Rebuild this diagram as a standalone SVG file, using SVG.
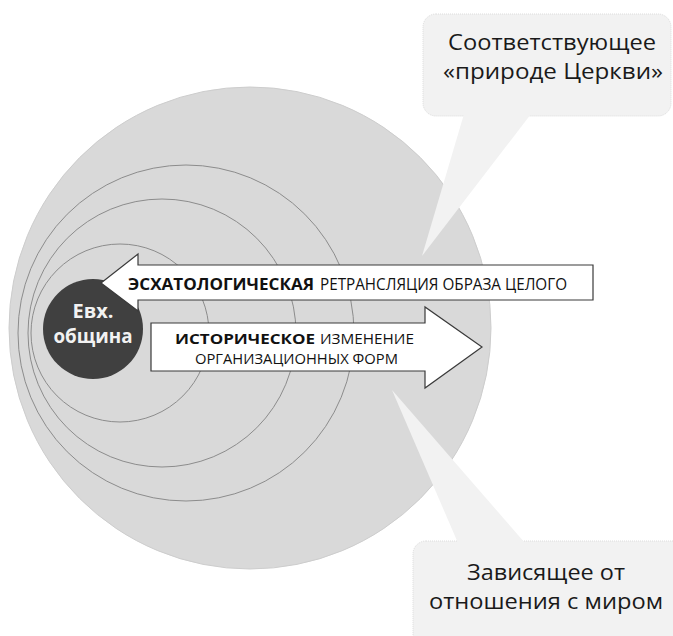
<svg xmlns="http://www.w3.org/2000/svg" width="673" height="636" viewBox="0 0 673 636">
  <style>
    .ring { fill: none; stroke: #8c8c8c; stroke-width: 1; }
    .bubble { fill: #f2f2f2; }
    .bubble-box { fill: #f2f2f2; stroke: #dcdcdc; stroke-width: 1; stroke-dasharray: 1 1; }
    .callout-text { font-family: "Open Sans", "Noto Sans", sans-serif; font-size: 22px; fill: #1a1a1a; text-anchor: middle; }
    .arrow { fill: #ffffff; stroke: #3a3a3a; stroke-width: 1.2; stroke-linejoin: miter; }
    .lbl { font-family: "Open Sans", "Noto Sans", sans-serif; font-size: 16.5px; fill: #111111; }
    .lbl-sm { font-size: 15px; }
    .lbl-b { font-weight: bold; }
    .core-text { font-family: "Open Sans", "Noto Sans", sans-serif; font-size: 20px; font-weight: bold; fill: #f2f2f2; text-anchor: middle; }
  </style>

  <rect width="673" height="636" fill="#ffffff"/>

  <!-- outer sphere and nested rings -->
  <g id="sphere">
    <circle cx="250" cy="328" r="241" fill="#d9d9d9" stroke="#cdcdcd" stroke-width="1"/>
    <circle class="ring" cx="186" cy="333" r="168"/>
    <circle class="ring" cx="162" cy="333" r="134"/>
    <circle class="ring" cx="120" cy="333" r="89"/>
  </g>

  <!-- upper callout -->
  <g id="callout-nature">
    <rect class="bubble-box" x="423" y="14" width="248" height="102" rx="13"/>
    <polygon class="bubble" points="464,114 422,256 531,114"/>
    <text class="callout-text" x="552" y="50" textLength="208" lengthAdjust="spacingAndGlyphs">Соответствующее</text>
    <text class="callout-text" x="553" y="79" textLength="220" lengthAdjust="spacingAndGlyphs">«природе Церкви»</text>
  </g>

  <!-- lower callout -->
  <g id="callout-world">
    <rect class="bubble-box" x="413" y="541" width="290" height="110" rx="13"/>
    <polygon class="bubble" points="392,390 458,543 525,543"/>
    <text class="callout-text" x="546" y="580" textLength="158" lengthAdjust="spacingAndGlyphs">Зависящее от</text>
    <text class="callout-text" x="546" y="609" textLength="234" lengthAdjust="spacingAndGlyphs">отношения с миром</text>
  </g>

  <!-- eucharistic community core -->
  <g id="core">
    <circle cx="93" cy="329" r="50" fill="#404040"/>
    <text class="core-text" x="93" y="318">Евх.</text>
    <text class="core-text" x="93" y="343" textLength="79" lengthAdjust="spacingAndGlyphs">община</text>
  </g>

  <!-- direction arrows -->
  <g id="connectors">
    <g id="arrow-eschatological">
      <polygon class="arrow" points="593,265 593,300 138,300 138,311 101,283 138,254 138,265"/>
      <text class="lbl lbl-b" x="128" y="290" textLength="186" lengthAdjust="spacingAndGlyphs">ЭСХАТОЛОГИЧЕСКАЯ</text>
      <text class="lbl" x="320" y="290" textLength="247" lengthAdjust="spacingAndGlyphs">РЕТРАНСЛЯЦИЯ ОБРАЗА ЦЕЛОГО</text>
    </g>
    <g id="arrow-historical">
      <polygon class="arrow" points="151,323 425,323 425,307 482,347 425,388 425,371 151,371"/>
      <text class="lbl lbl-sm lbl-b" x="175" y="344" textLength="140" lengthAdjust="spacingAndGlyphs">ИСТОРИЧЕСКОЕ</text>
      <text class="lbl lbl-sm" x="320" y="344" textLength="94" lengthAdjust="spacingAndGlyphs">ИЗМЕНЕНИЕ</text>
      <text class="lbl lbl-sm" x="195" y="364" textLength="203" lengthAdjust="spacingAndGlyphs">ОРГАНИЗАЦИОННЫХ ФОРМ</text>
    </g>
  </g>
</svg>
